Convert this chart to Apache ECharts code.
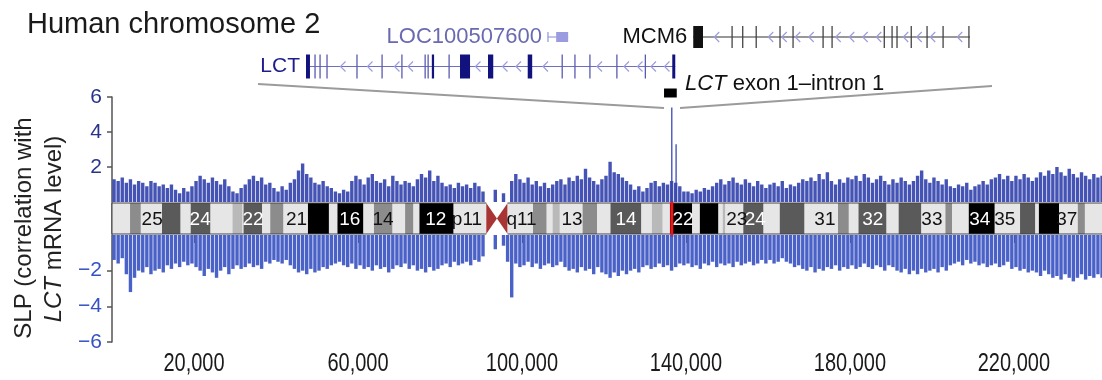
<!DOCTYPE html>
<html>
<head>
<meta charset="utf-8">
<title>Human chromosome 2</title>
<script src="https://cdn.jsdelivr.net/npm/echarts@6/dist/echarts.min.js"></script>
<style>
    html, body { margin: 0; padding: 0; background: #fff; }
    #app { width: 1102px; height: 380px; }
</style>
</head>
<body>
<div id="app"></div>
<script>
// SLP, one value per 1 Mb bin (bin i = i..i+1 Mb), positive part
let slpUp = [
    1.3, 1.2, 1.4, 1.1, 1.3, 1.0, 1.2, 1.1, 0.9, 1.2,
    1.1, 0.9, 1.0, 0.8, 1.0, 0.7, 0.5, 0.8, 0.6, 0.9,
    1.2, 1.5, 1.3, 1.1, 1.4, 1.2, 1.0, 1.3, 0.9, 0.6,
    0.5, 0.8, 1.0, 1.3, 1.5, 1.2, 1.4, 1.0, 1.1, 0.8,
    0.6, 0.9, 0.7, 1.1, 1.3, 1.8, 2.2, 1.6, 1.4, 1.1,
    1.0, 1.2, 0.9, 0.8, 0.6, 0.5, 0.7, 0.6, 1.2, 1.5,
    1.3, 1.0, 1.4, 1.6, 1.2, 1.1, 1.3, 0.9, 1.5, 1.2,
    1.0, 1.2, 1.1, 0.9, 1.3, 1.6, 1.4, 1.8, 1.2, 1.5,
    1.1, 0.9, 1.0, 0.8, 1.1, 0.9, 1.0, 0.8, 1.1, 0.9,
    0.6, 0, 0, 0.7, 0, 0.5, 0, 1.2, 1.6, 1.3,
    1.1, 1.4, 1.0, 1.2, 0.9, 1.1, 0.8, 1.0, 1.2, 1.3,
    1.0, 1.4, 1.2, 1.5, 1.3, 1.9, 1.4, 1.2, 1.0, 1.3,
    1.5, 2.3, 1.7, 1.6, 1.4, 1.2, 1.0, 0.7, 0.9, 0.6,
    0.8, 1.1, 1.2, 0.9, 1.1, 1.0, 1.2, 1.1, 0.9, 0.6,
    0.6, 0.5, 0.7, 0.6, 0.8, 0.7, 0.9, 1.1, 1.3, 1.0,
    1.2, 1.4, 1.1, 1.0, 1.3, 1.1, 0.9, 1.2, 1.0, 0.8,
    1.0, 1.1, 0.9, 1.2, 0.8, 1.0, 0.9, 1.1, 1.3, 1.2,
    1.4, 1.2, 1.6, 1.3, 1.7, 1.2, 1.0, 1.3, 1.1, 1.4,
    1.3, 1.5, 1.2, 1.6, 1.4, 1.1, 1.3, 1.5, 1.2, 1.0,
    1.3, 1.1, 1.4, 1.2, 1.0, 1.2, 1.5, 1.8, 1.3, 1.1,
    1.4, 1.2, 1.0, 1.3, 0.9, 0.8, 1.0, 0.9, 1.1, 0.7,
    0.9, 1.0, 1.2, 1.0, 1.3, 1.4, 1.6, 1.3, 1.5, 1.2,
    1.5, 1.3, 1.6, 1.4, 1.2, 1.4, 1.7, 1.5, 1.8, 1.6,
    2.0, 1.7, 1.5, 1.9, 1.6, 1.4, 1.7, 1.5, 1.3, 1.6,
    1.4, 1.5, 1.2
];
// SLP, negative part, same bins
let slpDown = [
    -1.4, -1.6, -1.3, -2.2, -3.2, -2.4, -2.0, -2.1, -1.8, -2.2,
    -2.0, -1.9, -2.1, -1.7, -1.9, -1.6, -1.8, -1.5, -1.7, -1.6,
    -1.8, -2.0, -2.3, -1.9, -2.1, -2.4, -2.0, -1.8, -2.2, -1.9,
    -1.7, -1.9, -1.8, -1.6, -1.8, -1.7, -1.9, -1.5, -1.6, -1.4,
    -1.5, -1.6, -1.4, -1.7, -1.9, -2.1, -2.0, -2.2, -1.9, -2.1,
    -2.0, -1.8, -1.9, -1.7, -1.6, -1.5, -1.7, -1.8, -1.6, -1.9,
    -1.7, -1.9, -1.8, -2.0, -1.7, -1.9, -1.8, -2.1, -1.9, -1.7,
    -1.8, -1.6, -1.9, -1.7, -2.0, -1.9, -2.1, -1.8, -2.0, -1.9,
    -1.7, -1.6, -1.8, -1.5, -1.7, -1.6, -1.5, -1.7, -1.4, -1.5,
    -1.2, 0, 0, -0.8, 0, -0.6, -1.5, -3.5, -1.6, -1.8,
    -1.7, -1.5, -1.8, -1.6, -1.9, -1.7, -1.6, -1.8, -1.7, -1.5,
    -1.8, -2.0, -1.9, -2.1, -1.8, -2.0, -1.9, -2.2, -1.8, -2.1,
    -2.2, -2.4, -2.1, -2.3, -2.0, -2.2, -2.0, -1.9, -2.1, -1.8,
    -1.7, -1.9, -1.8, -1.6, -1.8, -1.7, -2.0, -1.8, -1.6, -1.7,
    -1.6, -1.8, -1.7, -1.9, -1.6, -1.7, -1.5, -1.8, -1.6, -1.7,
    -1.6, -1.8, -1.5, -1.7, -1.6, -1.5, -1.7, -1.6, -1.4, -1.6,
    -1.4, -1.6, -1.5, -1.3, -1.5, -1.6, -1.8, -1.7, -1.9, -2.0,
    -1.8, -2.1, -1.9, -2.0, -1.8, -1.9, -1.7, -2.0, -1.8, -1.9,
    -1.7, -1.9, -1.8, -1.6, -1.8, -1.9, -1.7, -1.8, -2.0, -1.7,
    -1.8, -2.0, -2.1, -1.9, -2.2, -2.0, -2.2, -1.9, -2.1, -2.0,
    -1.9, -2.1, -1.8, -2.0, -1.7, -1.6, -1.5, -1.7, -1.4, -1.6,
    -1.5, -1.7, -1.6, -1.8, -1.7, -1.6, -1.8, -1.7, -1.5, -1.9,
    -1.8, -2.0, -1.9, -2.1, -2.0, -2.1, -2.3, -2.0, -2.2, -2.4,
    -2.3, -2.5, -2.2, -2.4, -2.6, -2.4, -2.2, -2.5, -2.3, -2.4,
    -2.2, -2.4, -2.1
];
// narrow single peaks [Mb, SLP]
let slpPeaks = [[136.55, 5.4], [137.6, 3.3]];
// LCT position on chromosome 2 (Mb)
let lctMb = 136.55;

// ideogram bands [start Mb, end Mb, stain]
let bands = [
    [0, 4.4, 0], [4.4, 7.0, 50], [7.0, 12.2, 0], [12.2, 16.7, 75], [16.7, 19.2, 0], [19.2, 24.0, 75],
    [24.0, 29.4, 0], [29.4, 31.8, 25], [31.8, 32.1, 0], [32.1, 36.6, 75], [36.6, 38.6, 0], [38.6, 41.8, 50],
    [41.8, 47.8, 0], [47.8, 52.9, 100], [52.9, 55.0, 0], [55.0, 61.3, 100], [61.3, 63.9, 0], [63.9, 68.4, 50],
    [68.4, 71.5, 0], [71.5, 73.5, 50], [73.5, 75.0, 0], [75.0, 83.3, 100], [83.3, 91.3, 0],
    [91.3, 93.9, "acen"], [93.9, 96.5, "acen"],
    [96.5, 102.7, 0], [102.7, 106.0, 50], [106.0, 107.5, 0], [107.5, 109.2, 25], [109.2, 114.8, 0],
    [114.8, 118.3, 50], [118.3, 121.6, 0], [121.6, 129.1, 75], [129.1, 131.7, 0], [131.7, 134.3, 25],
    [134.3, 136.1, 0], [136.1, 141.5, 100], [141.5, 143.4, 0], [143.4, 147.9, 100], [147.9, 149.0, 0],
    [149.0, 149.6, 25], [149.6, 154.0, 0], [154.0, 158.9, 75], [158.9, 162.9, 0], [162.9, 168.9, 75],
    [168.9, 177.1, 0], [177.1, 179.7, 50], [179.7, 182.1, 0], [182.1, 188.9, 75], [188.9, 191.9, 0],
    [191.9, 197.4, 75], [197.4, 203.3, 0], [203.3, 204.9, 50], [204.9, 209.0, 0], [209.0, 215.3, 100],
    [215.3, 221.5, 0], [221.5, 225.2, 75], [225.2, 226.1, 0], [226.1, 231.0, 100], [231.0, 235.6, 0],
    [235.6, 237.3, 50], [237.3, 243.2, 0]
];
// band names written on the ideogram [text, Mb]
let bandLabels = [
    ["25", 9.8], ["24", 21.5], ["22", 34.4], ["21", 45.0], ["16", 58.0], ["14", 66.1], ["12", 79.0],
    ["p11", 86.6], ["q11", 99.9], ["13", 112.2], ["14", 125.4], ["22", 139.3], ["23", 152.4], ["24", 156.9],
    ["31", 173.9], ["32", 185.6], ["33", 200.0], ["34", 211.7], ["35", 217.8], ["37", 232.9]
];
let chromLength = 243.2;

// axis ticks
let xTicks = [20000, 60000, 100000, 140000, 180000, 220000];
let yTicksUp = [2, 4, 6];
let yTicksDown = [-6, -4, -2];

// gene track, kb on chromosome 2; [s, s] = thin exon tick
let lctSpan = [136545.4, 136594.7];
let lctExons = [
    [136545.4, 136545.93], [136546.6, 136546.6], [136547.27, 136547.27], [136548.2, 136548.2],
    [136552.2, 136552.2], [136555.55, 136555.55], [136558.2, 136558.2], [136561.3, 136561.3],
    [136561.7, 136561.7], [136562.2, 136562.5], [136564.5, 136564.5], [136565.96, 136567.3],
    [136569.7, 136570.4], [136575.0, 136575.6], [136579.6, 136579.6], [136581.3, 136581.3],
    [136583.3, 136583.3], [136586.9, 136586.9], [136590.7, 136590.7], [136594.3, 136594.7]
];
let locSpan = [136577.7, 136580.4];
let locExons = [[136577.7, 136577.7], [136578.8, 136580.4]];
let mcm6Span = [136597.1, 136634.05];
let mcm6Exons = [
    [136597.1, 136598.4], [136602.28, 136602.28], [136603.7, 136603.9], [136605.5, 136605.7],
    [136608.68, 136608.68], [136610.42, 136610.42], [136614.43, 136614.43], [136615.63, 136615.63],
    [136622.6, 136622.8], [136623.64, 136623.64], [136624.3, 136624.3], [136626.2, 136626.4],
    [136628.31, 136628.31], [136630.45, 136630.45], [136633.9, 136634.05]
];
let exon1Box = [136593.2, 136594.9];

let geneTrack = [
    {name: "LCT", row: 0, span: lctSpan, exons: lctExons},
    {name: "LOC100507600", row: 1, span: locSpan, exons: locExons},
    {name: "MCM6", row: 1, span: mcm6Span, exons: mcm6Exons}
];
let geneStyle = {
    "LCT": {line: "#6f6fc2", chev: "#9d9de0", thin: "#5a5ab2", thick: "#12127f", label: "#1d1d8c", h: 12, fs: 21, chevrons: true},
    "LOC100507600": {line: "#9b9be0", chev: "#9b9be0", thin: "#9b9be0", thick: "#9b9be0", label: "#6a6ab2", h: 5, fs: 22, chevrons: false},
    "MCM6": {line: "#333333", chev: "#9d9ddc", thin: "#444444", thick: "#111111", label: "#111111", h: 11, fs: 22, chevrons: true}
};

let stainColor = {0: "#e6e6e6", 25: "#b9b9b9", 50: "#8c8c8c", 75: "#5a5a5a", 100: "#000000"};
let font = "Liberation Sans, Arial, sans-serif";
let xMax = chromLength * 1000;

let chart = echarts.init(document.querySelector("#app"));

// ideogram band rectangles and centromere
let renderBand = (params, api) => {
    let band = bands[params.dataIndex];
    let p0 = api.coord([band[0] * 1000, 1]);
    let p1 = api.coord([band[1] * 1000, 0]);
    if (band[2] === "acen") {
        let mid = (p0[1] + p1[1]) / 2;
        let next = bands[params.dataIndex + 1];
        let pts = next && next[2] === "acen"
            ? [[p0[0], p0[1]], [p0[0], p1[1]], [p1[0], mid]]
            : [[p1[0], p0[1]], [p1[0], p1[1]], [p0[0], mid]];
        return {type: "polygon", shape: {points: pts}, style: {fill: "#a83434"}};
    }
    return {
        type: "rect",
        shape: {x: p0[0], y: p0[1], width: p1[0] - p0[0] + 0.3, height: p1[1] - p0[1]},
        style: {fill: stainColor[band[2]]}
    };
};

let renderBandLabel = (params, api) => {
    let lab = bandLabels[params.dataIndex];
    let p = api.coord([lab[1] * 1000, 0.5]);
    let band = bands.find(b => lab[1] >= b[0] && lab[1] < b[1]);
    let dark = band && band[2] !== "acen" && band[2] >= 75;
    return {
        type: "text",
        style: {
            text: lab[0], x: p[0], y: p[1] + 1, align: "center", verticalAlign: "middle",
            fill: dark ? "#ffffff" : "#111111", fontSize: 19, fontFamily: font
        }
    };
};

// outline of the two arms
let renderOutline = (params, api) => {
    let pStart = api.coord([0, 1]);
    let pEnd = api.coord([bands[22][1] * 1000, 0]);
    let qStart = api.coord([bands[25][0] * 1000, 1]);
    let qEnd = api.coord([xMax, 0]);
    let st = {stroke: "#444", lineWidth: 1, fill: null};
    return {
        type: "group",
        children: [
            {type: "polyline", shape: {points: [[pEnd[0], pStart[1]], [pStart[0], pStart[1]], [pStart[0], pEnd[1]], [pEnd[0], pEnd[1]]]}, style: st},
            {type: "line", shape: {x1: qStart[0], y1: qStart[1], x2: qEnd[0], y2: qStart[1]}, style: st},
            {type: "line", shape: {x1: qStart[0], y1: qEnd[1], x2: qEnd[0], y2: qEnd[1]}, style: st}
        ]
    };
};

let renderMarker = (params, api) => {
    let top = api.coord([api.value(0), 1]);
    let bottom = api.coord([api.value(0), 0]);
    return {
        type: "line",
        shape: {x1: top[0], y1: top[1] - 2, x2: top[0], y2: bottom[1] + 3},
        style: {stroke: "#f01414", lineWidth: 3}
    };
};

let renderPeak = (params, api) => {
    let base = api.coord([api.value(0), 0]);
    let top = api.coord([api.value(0), api.value(1)]);
    return {
        type: "line",
        shape: {x1: base[0], y1: base[1], x2: top[0], y2: top[1]},
        style: {stroke: "#3a4ab5", lineWidth: 1.3}
    };
};

// x tick labels, drawn narrow like the condensed face of the original
let renderXLabel = (params, api) => {
    let p = api.coord([api.value(0), -6]);
    return {
        type: "text", x: p[0], y: p[1] + 22, scaleX: 0.8,
        style: {
            text: api.value(0).toLocaleString("en-US"), x: 0, y: 0, align: "center", verticalAlign: "middle",
            fill: "#1a1a1a", fontSize: 25, fontFamily: font
        }
    };
};

// one gene: intron line, strand chevrons, exons, name
let renderGene = (params, api) => {
    let gene = geneTrack[params.dataIndex];
    let st = geneStyle[gene.name];
    let a = api.coord([gene.span[0], gene.row]);
    let b = api.coord([gene.span[1], gene.row]);
    let y = a[1];
    let children = [];
    children.push({type: "line", shape: {x1: a[0], y1: y, x2: b[0], y2: y}, style: {stroke: st.line, lineWidth: 1.2}});
    let exPx = gene.exons.map(e => [api.coord([e[0], gene.row])[0], api.coord([e[1], gene.row])[0]]);
    if (st.chevrons) {
        for (let x = a[0] + 9; x < b[0] - 5; x += 13.5) {
            let hit = exPx.some(e => x > e[0] - 5 && x < e[1] + 3);
            if (hit) continue;
            children.push({
                type: "polyline",
                shape: {points: [[x + 3.5, y - 5], [x - 1.5, y], [x + 3.5, y + 5]]},
                style: {stroke: st.chev, lineWidth: 1.2, fill: null}
            });
        }
    }
    exPx.forEach(e => {
        let w = e[1] - e[0];
        let thick = w >= 1.5;
        children.push({
            type: "rect",
            shape: {x: thick ? e[0] : e[0] - 0.6, y: y - st.h, width: thick ? w : 1.3, height: st.h * 2},
            style: {fill: thick ? st.thick : st.thin}
        });
    });
    children.push({
        type: "text",
        style: {
            text: gene.name, x: a[0] - 6, y: y, align: "right", verticalAlign: "middle",
            fill: st.label, fontSize: st.fs, fontFamily: font
        }
    });
    return {type: "group", children: children};
};

let renderExon1 = (params, api) => {
    let a = api.coord([api.value(0), 0]);
    let b = api.coord([api.value(1), 0]);
    return {type: "rect", shape: {x: a[0], y: a[1] + 22, width: b[0] - a[0], height: 9}, style: {fill: "#000"}};
};

let mainGrid = {left: 112, right: -7, outerBoundsMode: "none", containLabel: false};
let hiddenX = (grid) => ({type: "value", gridIndex: grid, min: 0, max: xMax, show: false});

chart.setOption({
    animation: false,
    grid: [
        Object.assign({top: 97, height: 105}, mainGrid),
        Object.assign({top: 203, height: 31}, mainGrid),
        Object.assign({top: 235, height: 107}, mainGrid),
        {left: 306, right: 132, top: 37, height: 29.5, outerBoundsMode: "none", containLabel: false}
    ],
    xAxis: [
        hiddenX(0),
        hiddenX(1),
        {
            type: "value", gridIndex: 2, min: 0, max: xMax, position: "bottom", offset: 2,
            axisLine: {show: false},
            axisTick: {show: true, length: 8, customValues: xTicks, lineStyle: {color: "#666", width: 1}},
            axisLabel: {show: false},
            splitLine: {show: false}
        },
        {type: "value", gridIndex: 3, min: lctSpan[0], max: mcm6Span[1], show: false}
    ],
    yAxis: [
        {
            type: "value", gridIndex: 0, min: 0, max: 6, offset: 1,
            axisLine: {show: true, lineStyle: {color: "#555", width: 1.5}},
            axisTick: {show: true, length: 5, customValues: yTicksUp, lineStyle: {color: "#555", width: 1.5}},
            axisLabel: {customValues: yTicksUp, margin: 9, color: "#26348c", fontSize: 21, fontFamily: font},
            splitLine: {show: false}
        },
        {
            type: "value", gridIndex: 1, min: 0, max: 1, offset: 1,
            axisLine: {show: true, lineStyle: {color: "#555", width: 1.5}},
            axisTick: {show: false}, axisLabel: {show: false}, splitLine: {show: false}
        },
        {
            type: "value", gridIndex: 2, min: -6, max: 0, offset: 1,
            axisLine: {show: true, lineStyle: {color: "#555", width: 1.5}},
            axisTick: {show: true, length: 5, customValues: yTicksDown, lineStyle: {color: "#555", width: 1.5}},
            axisLabel: {
                customValues: yTicksDown, margin: 9, color: "#3652c2", fontSize: 21, fontFamily: font,
                formatter: v => "\u2212" + Math.abs(v)
            },
            splitLine: {show: false}
        },
        {type: "value", gridIndex: 3, min: 0, max: 1, show: false}
    ],
    series: [
        {
            name: "SLP +", type: "bar", xAxisIndex: 0, yAxisIndex: 0, barWidth: 3.4, silent: true,
            itemStyle: {color: "#3545ae", opacity: 0.92},
            data: slpUp.map((v, i) => [(i + 0.5) * 1000, v])
        },
        {
            name: "SLP -", type: "bar", xAxisIndex: 2, yAxisIndex: 2, barWidth: 3.4, silent: true,
            itemStyle: {color: "#3b54c2", opacity: 0.92},
            data: slpDown.map((v, i) => [(i + 0.5) * 1000, v])
        },
        {
            name: "peaks", type: "custom", xAxisIndex: 0, yAxisIndex: 0, silent: true,
            renderItem: renderPeak, data: slpPeaks.map(p => [p[0] * 1000, p[1]])
        },
        {
            name: "bands", type: "custom", xAxisIndex: 1, yAxisIndex: 1, silent: true,
            renderItem: renderBand, data: bands.map(b => [b[0] * 1000, b[1] * 1000])
        },
        {
            name: "outline", type: "custom", xAxisIndex: 1, yAxisIndex: 1, silent: true,
            renderItem: renderOutline, data: [[0, 1]]
        },
        {
            name: "band labels", type: "custom", xAxisIndex: 1, yAxisIndex: 1, silent: true,
            renderItem: renderBandLabel, data: bandLabels.map(l => [l[1] * 1000, 0.5])
        },
        {
            name: "LCT", type: "custom", xAxisIndex: 1, yAxisIndex: 1, silent: true,
            renderItem: renderMarker, data: [[lctMb * 1000, 0]]
        },
        {
            name: "x labels", type: "custom", xAxisIndex: 2, yAxisIndex: 2, silent: true, clip: false,
            renderItem: renderXLabel, data: xTicks.map(v => [v, -6])
        },
        {
            name: "genes", type: "custom", xAxisIndex: 3, yAxisIndex: 3, silent: true, clip: false,
            renderItem: renderGene, data: geneTrack.map(g => [g.span[0], g.row, g.span[1]]),
            encode: {x: [0, 2], y: 1}
        },
        {
            name: "exon 1", type: "custom", xAxisIndex: 3, yAxisIndex: 3, silent: true, clip: false,
            renderItem: renderExon1, data: [exon1Box], encode: {x: [0, 1]}
        }
    ],
    graphic: [
        {type: "text", x: 27, y: 24.5, style: {text: "Human chromosome 2", fontSize: 29, fontFamily: font, fill: "#1a1a1a", align: "left", verticalAlign: "middle"}},
        // zoom funnel from the spike to the gene track
        {type: "polyline", shape: {points: [[258, 84], [664, 108]]}, style: {stroke: "#9b9b9b", lineWidth: 2, fill: null}},
        {type: "polyline", shape: {points: [[680, 108], [992, 86]]}, style: {stroke: "#9b9b9b", lineWidth: 2, fill: null}},
        {
            type: "text", x: 685, y: 84,
            style: {
                text: "{i|LCT} exon 1\u2013intron 1", fontSize: 22, fontFamily: font, fill: "#111",
                align: "left", verticalAlign: "middle",
                rich: {i: {fontStyle: "italic", fontSize: 22, fontFamily: font, fill: "#111"}}
            }
        },
        // y axis title, two rotated lines
        {
            type: "text", x: 24, y: 228, rotation: Math.PI / 2,
            style: {text: "SLP (correlation with", fontSize: 24, fontFamily: font, fill: "#222", align: "center", verticalAlign: "middle"}
        },
        {
            type: "text", x: 54, y: 229, rotation: Math.PI / 2,
            style: {
                text: "{i|LCT} mRNA level)", fontSize: 24, fontFamily: font, fill: "#222",
                align: "center", verticalAlign: "middle",
                rich: {i: {fontStyle: "italic", fontSize: 24, fontFamily: font, fill: "#222"}}
            }
        }
    ]
});
</script>
</body>
</html>
